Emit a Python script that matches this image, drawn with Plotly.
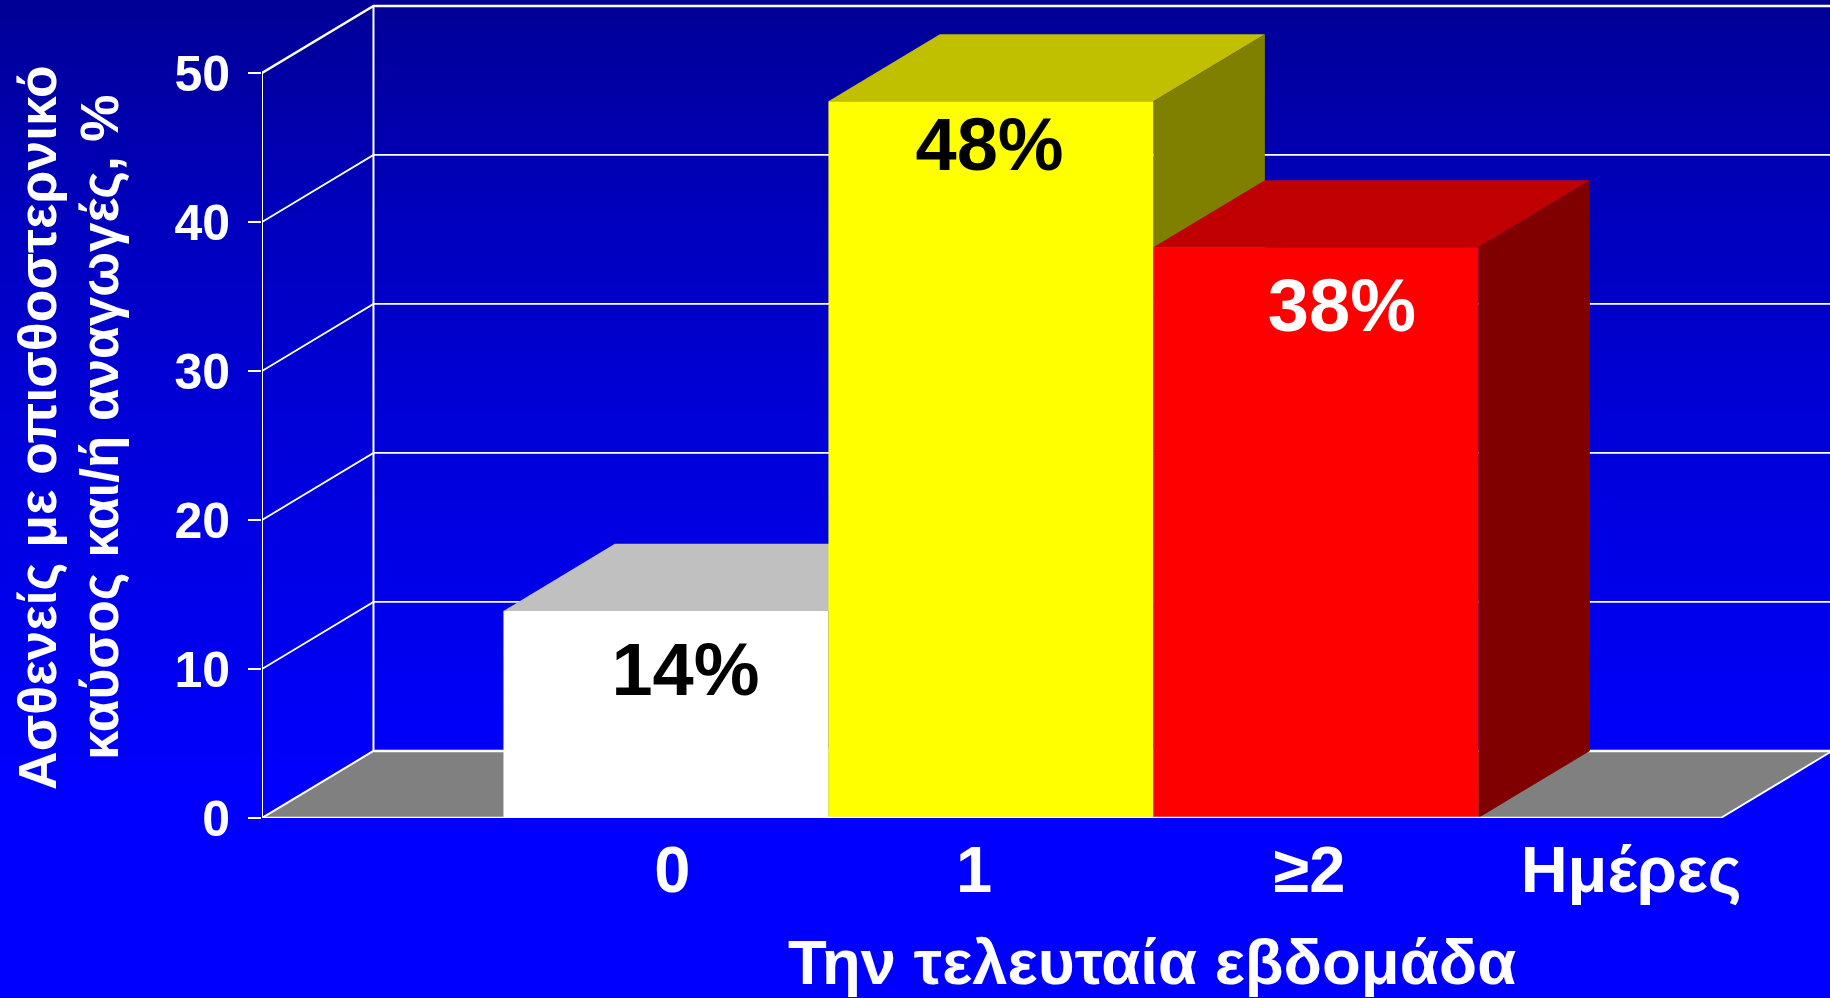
import plotly.graph_objects as go

# ---- data ----
categories = ["0", "1", "\u22652", "\u0397\u03bc\u03ad\u03c1\u03b5\u03c2"]
bar_values = [13.9, 48.1, 38.3]
bar_labels = ["14%", "48%", "38%"]
y_ticks = [0, 10, 20, 30, 40, 50]
y_title_1 = "\u0391\u03c3\u03b8\u03b5\u03bd\u03b5\u03af\u03c2 \u03bc\u03b5 \u03bf\u03c0\u03b9\u03c3\u03b8\u03bf\u03c3\u03c4\u03b5\u03c1\u03bd\u03b9\u03ba\u03cc"
y_title_2 = "\u03ba\u03b1\u03cd\u03c3\u03bf\u03c2 \u03ba\u03b1\u03b9/\u03ae \u03b1\u03bd\u03b1\u03b3\u03c9\u03b3\u03ad\u03c2, %"
x_title = "\u03a4\u03b7\u03bd \u03c4\u03b5\u03bb\u03b5\u03c5\u03c4\u03b1\u03af\u03b1 \u03b5\u03b2\u03b4\u03bf\u03bc\u03ac\u03b4\u03b1"

# ---- layout / style constants ----
W, H = 1830, 998
FONT = "Liberation Sans"
AX_L, AX_R = -1.243, 3.246      # floor extent, in bar-slot units
X_MAX = 3.582
Y_MAX = 54.9
DX, DY = 0.343, 4.5             # oblique depth offset in data units
BAR_COLORS = [("#FFFFFF", "#C0C0C0", "#808080"),
              ("#FFFF00", "#C0C000", "#808000"),
              ("#FF0000", "#C00000", "#800000")]
TICK_POS = [0.02, 0.948, 1.98, 2.97]
LABEL_X = [0.06, 0.996, 2.08]
LABEL_Y = [9.5, 44.7, 33.9]
LABEL_COLORS = ["#000000", "#000000", "#FFFFFF"]

fig = go.Figure()

# background gradient (drawn on the lowest subplot)
fig.add_trace(go.Heatmap(
    x=[0, 1], y=[0, 1, 2, 3, 4, 5],
    z=[[1, 1], [1, 1], [0.8, 0.8], [0.6, 0.6], [0.35, 0.35], [0, 0]],
    colorscale=[[0, "#000096"], [1, "#0000FF"]], zmin=0, zmax=1,
    zsmooth="best", showscale=False, hoverinfo="skip", xaxis="x", yaxis="y"))


def poly(xs, ys, color):
    fig.add_trace(go.Scatter(x=xs, y=ys, mode="lines", fill="toself", fillcolor=color,
                             line=dict(width=0, color=color), hoverinfo="skip",
                             showlegend=False, xaxis="x2", yaxis="y2", cliponaxis=False))


def line(xs, ys, width=1.8):
    fig.add_trace(go.Scatter(x=xs, y=ys, mode="lines", line=dict(color="#FFFFFF", width=width),
                             hoverinfo="skip", showlegend=False, xaxis="x2", yaxis="y2",
                             cliponaxis=False))


# floor
poly([AX_L, AX_R, AX_R + DX, AX_L + DX], [0, 0, DY, DY], "#808080")

# walls and gridlines
for t in y_ticks[1:]:
    w = 2.4 if t == y_ticks[-1] else 1.8
    line([AX_L, AX_L + DX, X_MAX], [t, t + DY, t + DY], w)
line([AX_L, AX_L], [0, y_ticks[-1]], 2)
line([AX_L + DX, AX_L + DX], [DY, y_ticks[-1] + DY], 2)
line([AX_L + DX, X_MAX], [DY, DY], 2.5)
line([AX_R, AX_R + DX], [0, DY], 1.8)
line([AX_L, AX_L + DX], [0, DY], 2)

# oblique bars
for i, v in enumerate(bar_values):
    front, top, side = BAR_COLORS[i]
    l, r = i - 0.5, i + 0.5
    poly([r, r + DX, r + DX, r], [0, DY, v + DY, v], side)
    poly([l, r, r + DX, l + DX], [v, v, v + DY, v + DY], top)
    poly([l, r, r, l], [0, 0, v, v], front)

# front baseline
line([AX_L, AX_R], [0, 0], 2.5)

# value labels
fig.add_trace(go.Scatter(
    x=LABEL_X, y=LABEL_Y, mode="text", text=bar_labels, textposition="middle center",
    textfont=dict(family=FONT, size=74, color=LABEL_COLORS, weight=700),
    hoverinfo="skip", showlegend=False, xaxis="x2", yaxis="y2", cliponaxis=False))


def bg_x(px):
    return px / W


def bg_y(py):
    return 5 * (1 - py / H)


fig.update_layout(
    width=W, height=H, margin=dict(l=0, r=0, t=0, b=0, pad=0, autoexpand=False),
    paper_bgcolor="#0000FF", plot_bgcolor="rgba(0,0,0,0)", showlegend=False,
    font=dict(family=FONT, color="#FFFFFF"),
    xaxis=dict(domain=[0, 1], range=[0, 1], visible=False, fixedrange=True),
    yaxis=dict(domain=[0, 1], range=[0, 5], visible=False, fixedrange=True),
    xaxis2=dict(domain=[262 / W, 1], range=[AX_L, X_MAX], anchor="y2",
                tickmode="array", tickvals=TICK_POS, ticktext=categories,
                ticks="", ticklabelstandoff=8, showgrid=False,
                zeroline=False, showline=False, automargin=False,
                tickfont=dict(family=FONT, size=65, color="#FFFFFF", weight=700)),
    yaxis2=dict(domain=[(H - 818) / H, 1], range=[0, Y_MAX], anchor="x2",
                tickmode="array", tickvals=y_ticks, ticktext=[str(t) for t in y_ticks],
                ticks="outside", ticklen=13, tickwidth=2, tickcolor="#FFFFFF",
                showgrid=False, zeroline=False, showline=False, ticklabelstandoff=8,
                automargin=False,
                tickfont=dict(family=FONT, size=50, color="#FFFFFF", weight=700)),
    annotations=[
        dict(text=y_title_1, xref="x", yref="y", x=bg_x(38), y=bg_y(428),
             textangle=-90, showarrow=False, xanchor="center", yanchor="middle",
             font=dict(family=FONT, size=53.5, color="#FFFFFF", weight=700)),
        dict(text=y_title_2, xref="x", yref="y", x=bg_x(100), y=bg_y(428),
             textangle=-90, showarrow=False, xanchor="center", yanchor="middle",
             font=dict(family=FONT, size=53, color="#FFFFFF", weight=700)),
        dict(text=x_title, xref="x", yref="y", x=bg_x(1152), y=bg_y(962),
             showarrow=False, xanchor="center", yanchor="middle",
             font=dict(family=FONT, size=63.5, color="#FFFFFF", weight=700)),
    ],
)

fig.write_html("out.html", config={"displayModeBar": False},
               post_script="document.body.style.margin='0';document.documentElement.style.overflow='hidden';")
